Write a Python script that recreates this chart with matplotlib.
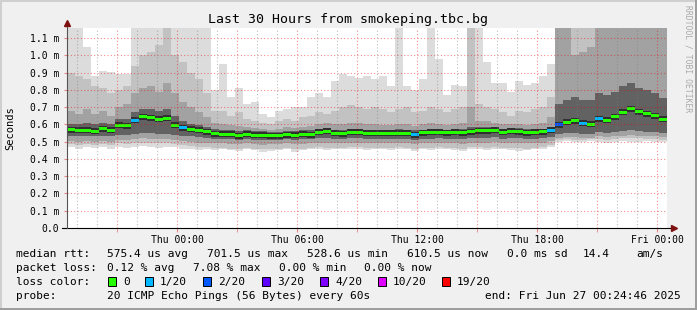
import matplotlib
matplotlib.use("Agg")
import matplotlib.pyplot as plt
from matplotlib.patches import Rectangle
import numpy as np

# ── Canvas ─────────────────────────────────────────────────────────────
W, H = 697, 310
plt.rcParams["font.family"] = "DejaVu Sans Mono"

BG_COLOR = "#f0f0f0"
SHADE_A = "#cfcfcf"
SHADE_B = "#9e9e9e"
MGRID = (0.9, 0.0, 0.0, 0.45)
GRID = (0.5, 0.5, 0.5, 0.5)
ARROW = "#7f1010"

# ── Data: 24-minute bins starting Wed 18:30, values in ms ─────────────
BIN_HOURS = 0.4

median_ms = [
    0.568, 0.566, 0.565, 0.560, 0.575, 0.567, 0.596, 0.592, 0.624, 0.643,
    0.637, 0.630, 0.635, 0.595, 0.580, 0.572, 0.566, 0.556, 0.547, 0.543,
    0.544, 0.535, 0.543, 0.538, 0.536, 0.534, 0.534, 0.540, 0.538, 0.542,
    0.539, 0.555, 0.560, 0.550, 0.546, 0.553, 0.555, 0.550, 0.550, 0.550,
    0.550, 0.550, 0.549, 0.541, 0.551, 0.553, 0.553, 0.551, 0.554, 0.552,
    0.556, 0.562, 0.562, 0.567, 0.555, 0.559, 0.558, 0.552, 0.554, 0.556,
    0.565, 0.598, 0.612, 0.620, 0.606, 0.600, 0.634, 0.625, 0.645, 0.670,
    0.690, 0.672, 0.662, 0.649, 0.629,
]

# lost pings out of 20 per bin
loss_pings = [
    0, 0, 0, 0, 0, 0, 0, 0, 1, 0,
    0, 0, 0, 0, 1, 0, 0, 0, 0, 0,
    0, 0, 0, 0, 0, 0, 0, 0, 0, 0,
    0, 0, 0, 0, 0, 0, 0, 0, 0, 0,
    0, 0, 0, 1, 0, 0, 0, 0, 0, 0,
    0, 0, 0, 0, 0, 0, 0, 0, 0, 0,
    1, 2, 0, 0, 1, 0, 1, 0, 0, 0,
    0, 0, 0, 0, 0,
]

# smoke envelopes, outermost (lightest) first
hi4 = [
    1.16, 1.16, 1.05, 0.88, 0.91, 0.905, 0.89, 0.89, 1.16, 1.16,
    1.16, 1.16, 1.16, 1.16, 1.16, 1.16, 1.16, 1.16, 0.80, 0.95,
    0.76, 0.81, 0.72, 0.73, 0.66, 0.64, 0.68, 0.69, 0.70, 0.70,
    0.76, 0.78, 0.76, 0.85, 0.89, 0.88, 0.87, 0.88, 0.86, 0.88,
    0.82, 1.16, 0.82, 0.80, 0.86, 1.16, 0.98, 0.77, 0.83, 0.82,
    1.16, 1.16, 0.96, 0.84, 0.84, 0.79, 0.85, 0.83, 0.84, 0.88,
    0.95, 1.16, 1.16, 1.16, 1.16, 1.16, 1.16, 1.16, 1.16, 1.16,
    1.16, 1.16, 1.16, 1.16, 1.16,
]
hi3 = [
    0.90, 0.88, 0.86, 0.82, 0.81, 0.78, 0.80, 0.82, 0.94, 1.00,
    1.02, 1.06, 1.16, 1.00, 0.96, 0.90, 0.86, 0.78, 0.68, 0.68,
    0.65, 0.67, 0.63, 0.62, 0.61, 0.60, 0.62, 0.63, 0.62, 0.64,
    0.65, 0.67, 0.66, 0.68, 0.70, 0.71, 0.70, 0.69, 0.70, 0.69,
    0.67, 0.69, 0.70, 0.67, 0.68, 0.70, 0.69, 0.67, 0.69, 0.70,
    1.16, 0.72, 0.70, 0.69, 0.67, 0.65, 0.68, 0.67, 0.69, 0.70,
    0.76, 1.16, 1.16, 1.16, 1.16, 1.16, 1.16, 1.16, 1.16, 1.16,
    1.16, 1.16, 1.16, 1.16, 1.16,
]
hi2 = [
    0.68, 0.66, 0.69, 0.66, 0.68, 0.65, 0.70, 0.72, 0.78, 0.81,
    0.82, 0.79, 0.84, 0.78, 0.73, 0.70, 0.67, 0.64, 0.61, 0.60,
    0.595, 0.59, 0.585, 0.58, 0.575, 0.57, 0.575, 0.585, 0.58, 0.585,
    0.59, 0.60, 0.61, 0.60, 0.60, 0.61, 0.61, 0.60, 0.60, 0.595,
    0.595, 0.60, 0.60, 0.59, 0.60, 0.61, 0.60, 0.595, 0.60, 0.61,
    0.70, 0.62, 0.62, 0.61, 0.60, 0.60, 0.60, 0.595, 0.60, 0.61,
    0.64, 1.16, 1.16, 1.00, 1.02, 1.05, 1.16, 1.16, 1.16, 1.16,
    1.16, 1.16, 1.16, 1.16, 1.16,
]
hi1 = [
    0.605, 0.60, 0.61, 0.60, 0.61, 0.60, 0.63, 0.63, 0.67, 0.69,
    0.69, 0.68, 0.69, 0.65, 0.62, 0.605, 0.595, 0.585, 0.575, 0.565,
    0.565, 0.56, 0.565, 0.56, 0.56, 0.555, 0.555, 0.56, 0.56, 0.565,
    0.565, 0.575, 0.58, 0.57, 0.57, 0.575, 0.575, 0.57, 0.57, 0.57,
    0.57, 0.575, 0.57, 0.565, 0.57, 0.575, 0.575, 0.57, 0.575, 0.575,
    0.585, 0.585, 0.585, 0.585, 0.575, 0.58, 0.58, 0.575, 0.575, 0.575,
    0.585, 0.72, 0.74, 0.76, 0.74, 0.74, 0.78, 0.77, 0.79, 0.82,
    0.84, 0.81, 0.80, 0.78, 0.75,
]
lo1 = [
    0.535, 0.535, 0.53, 0.53, 0.535, 0.53, 0.54, 0.54, 0.545, 0.55,
    0.55, 0.545, 0.545, 0.54, 0.535, 0.53, 0.525, 0.52, 0.515, 0.515,
    0.515, 0.51, 0.515, 0.51, 0.51, 0.51, 0.51, 0.515, 0.51, 0.515,
    0.515, 0.52, 0.52, 0.515, 0.515, 0.52, 0.52, 0.515, 0.515, 0.515,
    0.515, 0.515, 0.515, 0.51, 0.515, 0.515, 0.52, 0.515, 0.515, 0.515,
    0.52, 0.52, 0.52, 0.525, 0.515, 0.52, 0.52, 0.515, 0.515, 0.52,
    0.525, 0.545, 0.55, 0.55, 0.545, 0.545, 0.555, 0.55, 0.555, 0.56,
    0.565, 0.56, 0.555, 0.555, 0.55,
]
lo2 = [
    0.505, 0.50, 0.505, 0.50, 0.505, 0.50, 0.51, 0.51, 0.515, 0.52,
    0.515, 0.515, 0.515, 0.51, 0.505, 0.50, 0.495, 0.495, 0.49, 0.49,
    0.485, 0.485, 0.49, 0.485, 0.48, 0.485, 0.485, 0.49, 0.485, 0.485,
    0.49, 0.495, 0.495, 0.49, 0.49, 0.495, 0.495, 0.49, 0.49, 0.49,
    0.49, 0.495, 0.49, 0.485, 0.49, 0.49, 0.495, 0.49, 0.49, 0.485,
    0.495, 0.495, 0.495, 0.50, 0.49, 0.495, 0.495, 0.49, 0.49, 0.495,
    0.505, 0.52, 0.525, 0.525, 0.52, 0.52, 0.53, 0.525, 0.53, 0.535,
    0.54, 0.535, 0.53, 0.53, 0.525,
]
lo3 = [
    0.485, 0.48, 0.485, 0.48, 0.485, 0.48, 0.49, 0.485, 0.495, 0.495,
    0.49, 0.49, 0.495, 0.485, 0.48, 0.475, 0.47, 0.47, 0.465, 0.465,
    0.46, 0.46, 0.465, 0.46, 0.455, 0.46, 0.46, 0.465, 0.46, 0.46,
    0.465, 0.47, 0.465, 0.465, 0.465, 0.47, 0.47, 0.465, 0.465, 0.465,
    0.465, 0.47, 0.465, 0.46, 0.465, 0.465, 0.47, 0.465, 0.465, 0.46,
    0.47, 0.47, 0.465, 0.47, 0.465, 0.465, 0.465, 0.46, 0.465, 0.47,
    0.48, 0.51, 0.515, 0.51, 0.51, 0.515, 0.515, 0.51, 0.515, 0.52,
    0.52, 0.52, 0.515, 0.515, 0.51,
]
lo4 = [
    0.47, 0.46, 0.47, 0.465, 0.47, 0.46, 0.47, 0.465, 0.47, 0.475,
    0.47, 0.465, 0.47, 0.47, 0.46, 0.455, 0.45, 0.455, 0.45, 0.46,
    0.45, 0.445, 0.455, 0.45, 0.44, 0.445, 0.45, 0.455, 0.44, 0.45,
    0.455, 0.46, 0.45, 0.455, 0.46, 0.455, 0.46, 0.45, 0.46, 0.455,
    0.45, 0.46, 0.455, 0.445, 0.46, 0.45, 0.455, 0.46, 0.45, 0.445,
    0.455, 0.46, 0.45, 0.455, 0.46, 0.45, 0.445, 0.45, 0.455, 0.46,
    0.47, 0.50, 0.505, 0.50, 0.50, 0.505, 0.50, 0.495, 0.50, 0.505,
    0.50, 0.50, 0.505, 0.50, 0.50,
]

# x ticks: hours since Wed 18:30
label_hours = [5.5, 11.5, 17.5, 23.5, 29.5]
label_text = ["Thu 00:00", "Thu 06:00", "Thu 12:00", "Thu 18:00", "Fri 00:00"]
y_ticks = [0.0, 0.1, 0.2, 0.3, 0.4, 0.5, 0.6, 0.7, 0.8, 0.9, 1.0, 1.1]

LOSS_COLORS = {0: "#26ff00", 1: "#00b8ff", 2: "#0059ff", 3: "#5e00ff",
               4: "#7e00ff", 10: "#dd00ff", 19: "#ff0000"}
LOSS_LABELS = ["0", "1/20", "2/20", "3/20", "4/20", "10/20", "19/20"]
LOSS_KEYS = [0, 1, 2, 3, 4, 10, 19]

# ── Figure ─────────────────────────────────────────────────────────────
fig = plt.figure(figsize=(W / 100, H / 100), dpi=100, facecolor=BG_COLOR)


def px(x, y):
    return x / W, 1 - y / H


def fig_rect(x, y, w, h, **kw):
    # x, y = top-left corner in pixels
    fig.add_artist(Rectangle((x / W, 1 - (y + h) / H), w / W, h / H,
                             transform=fig.transFigure, **kw))


# 3D-ish border
fig_rect(0, 0, W, 2, color=SHADE_A, lw=0)
fig_rect(0, 0, 2, H, color=SHADE_A, lw=0)
fig_rect(0, H - 2, W, 2, color=SHADE_B, lw=0)
fig_rect(W - 2, 0, 2, H, color=SHADE_B, lw=0)

PLOT_L, PLOT_T, PLOT_W, PLOT_H = 67, 28, 600, 200
ax = fig.add_axes([PLOT_L / W, 1 - (PLOT_T + PLOT_H) / H, PLOT_W / W, PLOT_H / H])
ax.set_facecolor("white")
n_bins = len(median_ms)
edges = np.arange(n_bins + 1) * BIN_HOURS
px_per_ms = 172.7
ax.set_xlim(0, n_bins * BIN_HOURS)
ax.set_ylim(0, PLOT_H / px_per_ms)

# smoke layers
layers = [(lo4, hi4, "#dcdcdc"), (lo3, hi3, "#c2c2c2"),
          (lo2, hi2, "#a2a2a2"), (lo1, hi1, "#626262")]
for lo, hi, col in layers:
    ax.fill_between(edges, np.append(lo, lo[-1]), np.append(hi, hi[-1]),
                    step="post", color=col, lw=0, zorder=2)

med = np.array(median_ms)
core = 6 / px_per_ms
ax.bar(edges[:-1], core, bottom=med - core / 2, width=BIN_HOURS, align="edge",
       color="#303030", lw=0, zorder=3)
band = 3 / px_per_ms
ax.bar(edges[:-1], band, bottom=med - band / 2, width=BIN_HOURS, align="edge",
       color=[LOSS_COLORS[l] for l in loss_pings], lw=0, zorder=4)

# grid on top of the smoke
dots = (0, (1, 2))
for h in np.arange(0.5, 30, 1.0):
    major = abs(((h - 2.5) / 3) - round((h - 2.5) / 3)) < 1e-6
    ax.axvline(h, color=MGRID if major else GRID, lw=0.8, ls=dots, zorder=5)
for v in y_ticks[1:]:
    ax.axhline(v, color=MGRID, lw=0.8, ls=dots, zorder=5)

for s in ax.spines.values():
    s.set_visible(False)

ax.set_xticks(label_hours)
ax.set_xticklabels(label_text, fontsize=7)
ax.set_xticks(np.arange(2.5, 30, 3.0), minor=True)
ax.tick_params(axis="x", which="major", length=3, color=MGRID, pad=2)
ax.tick_params(axis="x", which="minor", length=3, color=MGRID)
ax.set_yticks(y_ticks)
ax.set_yticklabels(["0.0" if v == 0 else f"{v:.1f} m" for v in y_ticks], fontsize=7)
ax.tick_params(axis="y", length=2, color=MGRID, pad=3.5)

# axes with arrows
ax.plot([-5 / PLOT_W, 1 + 4 / PLOT_W], [0, 0], transform=ax.transAxes,
        color="black", lw=0.8, clip_on=False, zorder=6)
ax.plot([0, 0], [0, 1 + 3 / PLOT_H], transform=ax.transAxes,
        color="#555555", lw=0.8, clip_on=False, zorder=6)
ax.plot([1 + 7 / PLOT_W], [0], marker=">", ms=4.5, color=ARROW,
        transform=ax.transAxes, clip_on=False, zorder=7)
ax.plot([0], [1 + 5 / PLOT_H], marker="^", ms=4.5, color=ARROW,
        transform=ax.transAxes, clip_on=False, zorder=7)

# titles
fig.text(*px(348, 19), "Last 30 Hours from smokeping.tbc.bg", ha="center",
         va="center", fontsize=9.5)
fig.text(*px(10, 128), "Seconds", rotation=90, ha="center", va="center", fontsize=7.5)
fig.text(*px(688, 5), "RRDTOOL / TOBI OETIKER", rotation=-90, ha="center",
         va="top", fontsize=5.8, color="#aaaaaa")

# legend rows
LEG = 8
rows = [
    (254, [(16, "median rtt:"), (107, "575.4 us avg"), (207, "701.5 us max"),
           (307, "528.6 us min"), (407, "610.5 us now"), (507, "0.0 ms sd"),
           (583, "14.4"), (636, "am/s")]),
    (268, [(16, "packet loss:"), (107, "0.12 % avg"), (193, "7.08 % max"),
           (279, "0.00 % min"), (364, "0.00 % now")]),
    (282, [(16, "loss color:")]),
    (296, [(16, "probe:"), (107, "20 ICMP Echo Pings (56 Bytes) every 60s")]),
]
for y, items in rows:
    for x, s in items:
        fig.text(*px(x, y), s, ha="left", va="center", fontsize=LEG)
fig.text(*px(681, 296), "end: Fri Jun 27 00:24:46 2025", ha="right",
         va="center", fontsize=LEG)

box_x = [108, 145, 203, 262, 320, 378, 442]
for bx, key, lab in zip(box_x, LOSS_KEYS, LOSS_LABELS):
    fig_rect(bx, 277, 8, 9, facecolor=LOSS_COLORS[key], edgecolor="black", lw=0.7)
    fig.text(*px(bx + 15, 282), lab, ha="left", va="center", fontsize=LEG)

fig.savefig("out.png", dpi=100, facecolor=BG_COLOR)
